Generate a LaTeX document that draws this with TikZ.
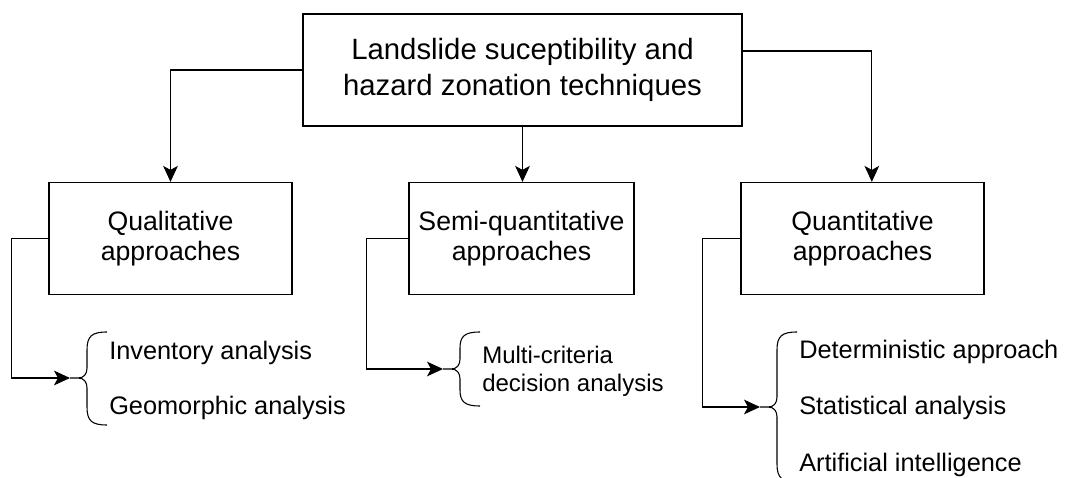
\documentclass[tikz,border=0pt]{standalone}
\usepackage{fontspec}
\setmainfont{Liberation Sans}
\usetikzlibrary{arrows.meta}

\begin{document}
\begin{tikzpicture}[
    x=0.75pt, y=-0.75pt,
    box/.style={draw, line width=0.9pt, align=center, inner sep=0pt, minimum height=84pt},
    item/.style={anchor=west, inner sep=0pt, align=left, font=\fontsize{19}{22}\selectfont},
    arr/.style={line width=0.9pt, -{Stealth[length=12pt, width=11pt, inset=3pt]}},
    brc/.style={line width=0.8pt}
]

\useasboundingbox (0,0) rectangle (1065,478);

% ================= boxes =================

\node[box, minimum width=329.25pt, font=\fontsize{22}{27}\selectfont] (top) at (522.5,70)
    {Landslide suceptibility and\\hazard zonation techniques};

\node[box, minimum width=182.25pt, font=\fontsize{20}{23}\selectfont] (qual)  at (170.5,238.5) {Qualitative\\approaches};
\node[box, minimum width=168.75pt, font=\fontsize{20}{23}\selectfont] (semi)  at (521.5,238.5) {Semi-quantitative\\approaches};
\node[box, minimum width=182.25pt, font=\fontsize{20}{23}\selectfont] (quant) at (862.5,238.5) {Quantitative\\approaches};

\draw[arr] (top.west) -| (qual.north);
\draw[arr] (top.south) -- (top.south |- semi.north);
\draw[arr] ([yshift=14.25pt]top.east) -| ([xshift=7pt]quant.north);

% ================= braces =================

\coordinate (bq) at (70,378);
\coordinate (bs) at (443,369);
\coordinate (bn) at (760,407);

\draw[brc] (107,332) .. controls (92,332) and (87,336) .. (87,350) -- (87,368)
    .. controls (87,374) and (84,378) .. (78,378) -- (bq)
    -- (78,378) .. controls (84,378) and (87,382) .. (87,388) -- (87,407)
    .. controls (87,421) and (92,425) .. (107,425);

\draw[brc] (480,332) .. controls (465,332) and (460,336) .. (460,348) -- (460,359)
    .. controls (460,365) and (457,369) .. (451,369) -- (bs)
    -- (451,369) .. controls (457,369) and (460,373) .. (460,379) -- (460,390)
    .. controls (460,402) and (465,406) .. (480,406);

\draw[brc] (797,332) .. controls (782,332) and (777,336) .. (777,350) -- (777,397)
    .. controls (777,403) and (774,407) .. (768,407) -- (bn)
    -- (768,407) .. controls (774,407) and (777,411) .. (777,417) -- (777,464)
    .. controls (777,478) and (782,482) .. (797,482);

\draw[arr] (qual.west)  -- ++(-37,0) |- (bq);
\draw[arr] (semi.west)  -- ++(-42,0) |- (bs);
\draw[arr] (quant.west) -- ++(-38,0) |- (bn);

% ================= lists =================

\node[item] (inv) at (109,353) {Inventory analysis};
\node[item] (geo) at (109,408) {Geomorphic analysis};

\node[item, font=\fontsize{18}{21}\selectfont] (mcda) at (482,371) {Multi-criteria\\decision analysis};

\node[item] (det) at (799,352) {Deterministic approach};
\node[item] (sta) at (799,408) {Statistical analysis};
\node[item] (ai)  at (799,465) {Artificial intelligence};

\end{tikzpicture}
\end{document}
